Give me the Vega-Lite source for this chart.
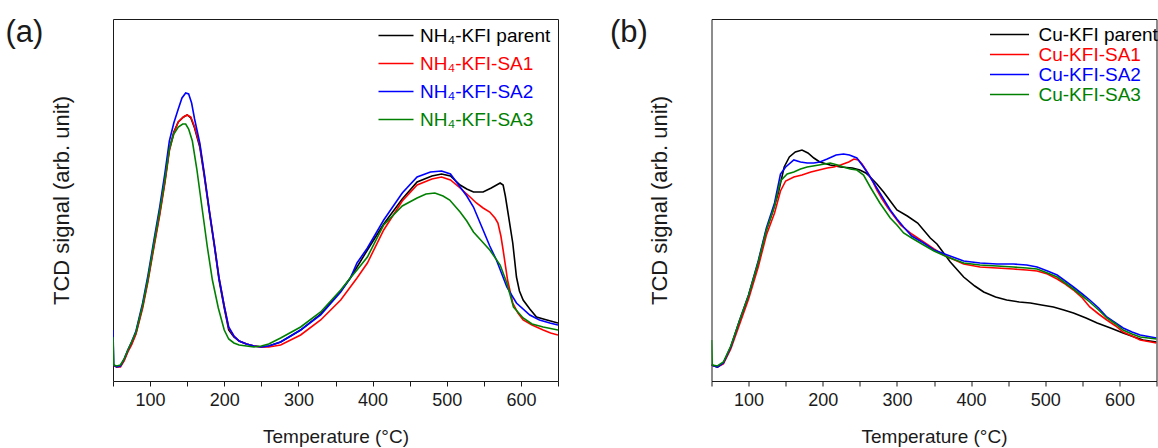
{
"$schema": "https://vega.github.io/schema/vega-lite/v6.json",
"padding": {"left": 5, "top": 16, "right": 0, "bottom": 0},
"config": {
  "font": "Liberation Sans",
  "view": {"stroke": "#1a1a1a", "strokeWidth": 1},
  "axis": {"labelFont": "Liberation Sans", "titleFont": "Liberation Sans", "titleFontWeight": "normal", "labelColor": "#1a1a1a", "titleColor": "#1a1a1a", "grid": false, "domain": false, "tickColor": "#1a1a1a"},
  "title": {"font": "Liberation Sans", "fontWeight": "normal", "color": "#1a1a1a"}
},
"spacing": 50.5,
"resolve": {"scale": {"color": "independent"}, "legend": {"color": "independent"}},
"datasets": {
"a": [
{"s":"NH₄-KFI parent","T":50,"v":16},{"s":"NH₄-KFI parent","T":55,"v":14},{"s":"NH₄-KFI parent","T":60,"v":15},{"s":"NH₄-KFI parent","T":65,"v":21},{"s":"NH₄-KFI parent","T":70,"v":30},{"s":"NH₄-KFI parent","T":75,"v":37},{"s":"NH₄-KFI parent","T":81,"v":48},{"s":"NH₄-KFI parent","T":90,"v":75},{"s":"NH₄-KFI parent","T":97,"v":101},{"s":"NH₄-KFI parent","T":105,"v":135},{"s":"NH₄-KFI parent","T":113,"v":168},{"s":"NH₄-KFI parent","T":120,"v":200},{"s":"NH₄-KFI parent","T":126,"v":232},{"s":"NH₄-KFI parent","T":132,"v":249},{"s":"NH₄-KFI parent","T":138,"v":259},{"s":"NH₄-KFI parent","T":145,"v":264},{"s":"NH₄-KFI parent","T":150,"v":266},{"s":"NH₄-KFI parent","T":155,"v":263},{"s":"NH₄-KFI parent","T":160,"v":253},{"s":"NH₄-KFI parent","T":167,"v":234},{"s":"NH₄-KFI parent","T":173,"v":205},{"s":"NH₄-KFI parent","T":180,"v":168},{"s":"NH₄-KFI parent","T":187,"v":133},{"s":"NH₄-KFI parent","T":193,"v":101},{"s":"NH₄-KFI parent","T":200,"v":73},{"s":"NH₄-KFI parent","T":206,"v":51},{"s":"NH₄-KFI parent","T":213,"v":44},{"s":"NH₄-KFI parent","T":220,"v":40},{"s":"NH₄-KFI parent","T":230,"v":37},{"s":"NH₄-KFI parent","T":240,"v":35},{"s":"NH₄-KFI parent","T":250,"v":34},{"s":"NH₄-KFI parent","T":260,"v":35},{"s":"NH₄-KFI parent","T":276,"v":39},{"s":"NH₄-KFI parent","T":303,"v":51},{"s":"NH₄-KFI parent","T":330,"v":67},{"s":"NH₄-KFI parent","T":357,"v":90},{"s":"NH₄-KFI parent","T":370,"v":103},{"s":"NH₄-KFI parent","T":379,"v":114},{"s":"NH₄-KFI parent","T":393,"v":131},{"s":"NH₄-KFI parent","T":415,"v":157},{"s":"NH₄-KFI parent","T":440,"v":182},{"s":"NH₄-KFI parent","T":460,"v":199},{"s":"NH₄-KFI parent","T":480,"v":205},{"s":"NH₄-KFI parent","T":493,"v":207},{"s":"NH₄-KFI parent","T":505,"v":205},{"s":"NH₄-KFI parent","T":518,"v":196},{"s":"NH₄-KFI parent","T":527,"v":192},{"s":"NH₄-KFI parent","T":536,"v":189},{"s":"NH₄-KFI parent","T":549,"v":189},{"s":"NH₄-KFI parent","T":560,"v":193},{"s":"NH₄-KFI parent","T":572,"v":198},{"s":"NH₄-KFI parent","T":576,"v":196},{"s":"NH₄-KFI parent","T":579,"v":185},{"s":"NH₄-KFI parent","T":582,"v":171},{"s":"NH₄-KFI parent","T":589,"v":138},{"s":"NH₄-KFI parent","T":594,"v":104},{"s":"NH₄-KFI parent","T":598,"v":90},{"s":"NH₄-KFI parent","T":603,"v":81},{"s":"NH₄-KFI parent","T":612,"v":72},{"s":"NH₄-KFI parent","T":621,"v":64},{"s":"NH₄-KFI parent","T":635,"v":61},{"s":"NH₄-KFI parent","T":650,"v":58},
{"s":"NH₄-KFI-SA1","T":50,"v":16},{"s":"NH₄-KFI-SA1","T":55,"v":14},{"s":"NH₄-KFI-SA1","T":60,"v":14},{"s":"NH₄-KFI-SA1","T":65,"v":20},{"s":"NH₄-KFI-SA1","T":70,"v":29},{"s":"NH₄-KFI-SA1","T":75,"v":36},{"s":"NH₄-KFI-SA1","T":81,"v":47},{"s":"NH₄-KFI-SA1","T":90,"v":73},{"s":"NH₄-KFI-SA1","T":97,"v":99},{"s":"NH₄-KFI-SA1","T":105,"v":133},{"s":"NH₄-KFI-SA1","T":113,"v":166},{"s":"NH₄-KFI-SA1","T":120,"v":198},{"s":"NH₄-KFI-SA1","T":126,"v":230},{"s":"NH₄-KFI-SA1","T":132,"v":248},{"s":"NH₄-KFI-SA1","T":138,"v":259},{"s":"NH₄-KFI-SA1","T":145,"v":264},{"s":"NH₄-KFI-SA1","T":150,"v":266},{"s":"NH₄-KFI-SA1","T":155,"v":264},{"s":"NH₄-KFI-SA1","T":160,"v":254},{"s":"NH₄-KFI-SA1","T":167,"v":236},{"s":"NH₄-KFI-SA1","T":173,"v":207},{"s":"NH₄-KFI-SA1","T":180,"v":170},{"s":"NH₄-KFI-SA1","T":187,"v":135},{"s":"NH₄-KFI-SA1","T":193,"v":103},{"s":"NH₄-KFI-SA1","T":200,"v":75},{"s":"NH₄-KFI-SA1","T":206,"v":53},{"s":"NH₄-KFI-SA1","T":213,"v":45},{"s":"NH₄-KFI-SA1","T":220,"v":40},{"s":"NH₄-KFI-SA1","T":230,"v":37},{"s":"NH₄-KFI-SA1","T":240,"v":35},{"s":"NH₄-KFI-SA1","T":250,"v":34},{"s":"NH₄-KFI-SA1","T":260,"v":34},{"s":"NH₄-KFI-SA1","T":276,"v":36},{"s":"NH₄-KFI-SA1","T":303,"v":46},{"s":"NH₄-KFI-SA1","T":330,"v":61},{"s":"NH₄-KFI-SA1","T":357,"v":81},{"s":"NH₄-KFI-SA1","T":370,"v":94},{"s":"NH₄-KFI-SA1","T":379,"v":103},{"s":"NH₄-KFI-SA1","T":393,"v":118},{"s":"NH₄-KFI-SA1","T":415,"v":151},{"s":"NH₄-KFI-SA1","T":440,"v":180},{"s":"NH₄-KFI-SA1","T":460,"v":196},{"s":"NH₄-KFI-SA1","T":480,"v":202},{"s":"NH₄-KFI-SA1","T":493,"v":204},{"s":"NH₄-KFI-SA1","T":505,"v":201},{"s":"NH₄-KFI-SA1","T":518,"v":193},{"s":"NH₄-KFI-SA1","T":530,"v":185},{"s":"NH₄-KFI-SA1","T":540,"v":178},{"s":"NH₄-KFI-SA1","T":549,"v":173},{"s":"NH₄-KFI-SA1","T":558,"v":169},{"s":"NH₄-KFI-SA1","T":565,"v":163},{"s":"NH₄-KFI-SA1","T":569,"v":158},{"s":"NH₄-KFI-SA1","T":573,"v":145},{"s":"NH₄-KFI-SA1","T":576,"v":131},{"s":"NH₄-KFI-SA1","T":582,"v":101},{"s":"NH₄-KFI-SA1","T":589,"v":78},{"s":"NH₄-KFI-SA1","T":596,"v":68},{"s":"NH₄-KFI-SA1","T":603,"v":61},{"s":"NH₄-KFI-SA1","T":615,"v":56},{"s":"NH₄-KFI-SA1","T":630,"v":51},{"s":"NH₄-KFI-SA1","T":640,"v":48},{"s":"NH₄-KFI-SA1","T":650,"v":46},
{"s":"NH₄-KFI-SA2","T":50,"v":51},{"s":"NH₄-KFI-SA2","T":51,"v":16},{"s":"NH₄-KFI-SA2","T":55,"v":14},{"s":"NH₄-KFI-SA2","T":60,"v":15},{"s":"NH₄-KFI-SA2","T":65,"v":22},{"s":"NH₄-KFI-SA2","T":70,"v":31},{"s":"NH₄-KFI-SA2","T":75,"v":39},{"s":"NH₄-KFI-SA2","T":81,"v":50},{"s":"NH₄-KFI-SA2","T":90,"v":78},{"s":"NH₄-KFI-SA2","T":97,"v":105},{"s":"NH₄-KFI-SA2","T":105,"v":140},{"s":"NH₄-KFI-SA2","T":113,"v":174},{"s":"NH₄-KFI-SA2","T":120,"v":208},{"s":"NH₄-KFI-SA2","T":126,"v":240},{"s":"NH₄-KFI-SA2","T":132,"v":258},{"s":"NH₄-KFI-SA2","T":138,"v":272},{"s":"NH₄-KFI-SA2","T":143,"v":283},{"s":"NH₄-KFI-SA2","T":148,"v":288},{"s":"NH₄-KFI-SA2","T":152,"v":287},{"s":"NH₄-KFI-SA2","T":156,"v":278},{"s":"NH₄-KFI-SA2","T":160,"v":262},{"s":"NH₄-KFI-SA2","T":167,"v":238},{"s":"NH₄-KFI-SA2","T":173,"v":208},{"s":"NH₄-KFI-SA2","T":180,"v":170},{"s":"NH₄-KFI-SA2","T":187,"v":135},{"s":"NH₄-KFI-SA2","T":193,"v":103},{"s":"NH₄-KFI-SA2","T":200,"v":75},{"s":"NH₄-KFI-SA2","T":206,"v":54},{"s":"NH₄-KFI-SA2","T":213,"v":45},{"s":"NH₄-KFI-SA2","T":220,"v":40},{"s":"NH₄-KFI-SA2","T":230,"v":37},{"s":"NH₄-KFI-SA2","T":240,"v":35},{"s":"NH₄-KFI-SA2","T":250,"v":34},{"s":"NH₄-KFI-SA2","T":260,"v":35},{"s":"NH₄-KFI-SA2","T":276,"v":39},{"s":"NH₄-KFI-SA2","T":303,"v":51},{"s":"NH₄-KFI-SA2","T":330,"v":66},{"s":"NH₄-KFI-SA2","T":357,"v":89},{"s":"NH₄-KFI-SA2","T":370,"v":103},{"s":"NH₄-KFI-SA2","T":379,"v":118},{"s":"NH₄-KFI-SA2","T":393,"v":133},{"s":"NH₄-KFI-SA2","T":415,"v":161},{"s":"NH₄-KFI-SA2","T":440,"v":188},{"s":"NH₄-KFI-SA2","T":460,"v":204},{"s":"NH₄-KFI-SA2","T":478,"v":209},{"s":"NH₄-KFI-SA2","T":493,"v":210},{"s":"NH₄-KFI-SA2","T":505,"v":207},{"s":"NH₄-KFI-SA2","T":518,"v":194},{"s":"NH₄-KFI-SA2","T":527,"v":185},{"s":"NH₄-KFI-SA2","T":536,"v":174},{"s":"NH₄-KFI-SA2","T":549,"v":151},{"s":"NH₄-KFI-SA2","T":558,"v":135},{"s":"NH₄-KFI-SA2","T":567,"v":121},{"s":"NH₄-KFI-SA2","T":581,"v":94},{"s":"NH₄-KFI-SA2","T":594,"v":78},{"s":"NH₄-KFI-SA2","T":612,"v":66},{"s":"NH₄-KFI-SA2","T":625,"v":61},{"s":"NH₄-KFI-SA2","T":639,"v":58},{"s":"NH₄-KFI-SA2","T":650,"v":56},
{"s":"NH₄-KFI-SA3","T":50,"v":44},{"s":"NH₄-KFI-SA3","T":51,"v":16},{"s":"NH₄-KFI-SA3","T":55,"v":15},{"s":"NH₄-KFI-SA3","T":60,"v":16},{"s":"NH₄-KFI-SA3","T":65,"v":22},{"s":"NH₄-KFI-SA3","T":70,"v":31},{"s":"NH₄-KFI-SA3","T":75,"v":39},{"s":"NH₄-KFI-SA3","T":81,"v":49},{"s":"NH₄-KFI-SA3","T":90,"v":76},{"s":"NH₄-KFI-SA3","T":97,"v":102},{"s":"NH₄-KFI-SA3","T":105,"v":137},{"s":"NH₄-KFI-SA3","T":113,"v":170},{"s":"NH₄-KFI-SA3","T":120,"v":202},{"s":"NH₄-KFI-SA3","T":126,"v":232},{"s":"NH₄-KFI-SA3","T":132,"v":247},{"s":"NH₄-KFI-SA3","T":138,"v":254},{"s":"NH₄-KFI-SA3","T":144,"v":257},{"s":"NH₄-KFI-SA3","T":148,"v":257},{"s":"NH₄-KFI-SA3","T":152,"v":252},{"s":"NH₄-KFI-SA3","T":157,"v":240},{"s":"NH₄-KFI-SA3","T":163,"v":212},{"s":"NH₄-KFI-SA3","T":171,"v":168},{"s":"NH₄-KFI-SA3","T":177,"v":135},{"s":"NH₄-KFI-SA3","T":184,"v":101},{"s":"NH₄-KFI-SA3","T":192,"v":73},{"s":"NH₄-KFI-SA3","T":200,"v":51},{"s":"NH₄-KFI-SA3","T":206,"v":42},{"s":"NH₄-KFI-SA3","T":213,"v":38},{"s":"NH₄-KFI-SA3","T":220,"v":36},{"s":"NH₄-KFI-SA3","T":230,"v":35},{"s":"NH₄-KFI-SA3","T":240,"v":34},{"s":"NH₄-KFI-SA3","T":250,"v":35},{"s":"NH₄-KFI-SA3","T":260,"v":37},{"s":"NH₄-KFI-SA3","T":276,"v":43},{"s":"NH₄-KFI-SA3","T":303,"v":54},{"s":"NH₄-KFI-SA3","T":330,"v":69},{"s":"NH₄-KFI-SA3","T":357,"v":91},{"s":"NH₄-KFI-SA3","T":370,"v":103},{"s":"NH₄-KFI-SA3","T":379,"v":111},{"s":"NH₄-KFI-SA3","T":393,"v":124},{"s":"NH₄-KFI-SA3","T":415,"v":156},{"s":"NH₄-KFI-SA3","T":440,"v":175},{"s":"NH₄-KFI-SA3","T":460,"v":183},{"s":"NH₄-KFI-SA3","T":472,"v":187},{"s":"NH₄-KFI-SA3","T":484,"v":188},{"s":"NH₄-KFI-SA3","T":495,"v":185},{"s":"NH₄-KFI-SA3","T":504,"v":181},{"s":"NH₄-KFI-SA3","T":518,"v":169},{"s":"NH₄-KFI-SA3","T":527,"v":160},{"s":"NH₄-KFI-SA3","T":536,"v":149},{"s":"NH₄-KFI-SA3","T":547,"v":140},{"s":"NH₄-KFI-SA3","T":558,"v":131},{"s":"NH₄-KFI-SA3","T":572,"v":116},{"s":"NH₄-KFI-SA3","T":581,"v":98},{"s":"NH₄-KFI-SA3","T":590,"v":74},{"s":"NH₄-KFI-SA3","T":603,"v":63},{"s":"NH₄-KFI-SA3","T":615,"v":57},{"s":"NH₄-KFI-SA3","T":630,"v":54},{"s":"NH₄-KFI-SA3","T":650,"v":51}
],
"b": [
{"s":"Cu-KFI parent","T":50,"v":16},{"s":"Cu-KFI parent","T":58,"v":14},{"s":"Cu-KFI parent","T":66,"v":18},{"s":"Cu-KFI parent","T":76,"v":34},{"s":"Cu-KFI parent","T":88,"v":60},{"s":"Cu-KFI parent","T":100,"v":85},{"s":"Cu-KFI parent","T":113,"v":118},{"s":"Cu-KFI parent","T":124,"v":151},{"s":"Cu-KFI parent","T":132,"v":168},{"s":"Cu-KFI parent","T":140,"v":188},{"s":"Cu-KFI parent","T":148,"v":214},{"s":"Cu-KFI parent","T":155,"v":224},{"s":"Cu-KFI parent","T":163,"v":229},{"s":"Cu-KFI parent","T":172,"v":231},{"s":"Cu-KFI parent","T":180,"v":228},{"s":"Cu-KFI parent","T":188,"v":223},{"s":"Cu-KFI parent","T":196,"v":219},{"s":"Cu-KFI parent","T":210,"v":216},{"s":"Cu-KFI parent","T":224,"v":214},{"s":"Cu-KFI parent","T":240,"v":213},{"s":"Cu-KFI parent","T":250,"v":211},{"s":"Cu-KFI parent","T":258,"v":208},{"s":"Cu-KFI parent","T":264,"v":204},{"s":"Cu-KFI parent","T":273,"v":197},{"s":"Cu-KFI parent","T":282,"v":189},{"s":"Cu-KFI parent","T":291,"v":180},{"s":"Cu-KFI parent","T":300,"v":171},{"s":"Cu-KFI parent","T":314,"v":165},{"s":"Cu-KFI parent","T":328,"v":158},{"s":"Cu-KFI parent","T":345,"v":143},{"s":"Cu-KFI parent","T":354,"v":137},{"s":"Cu-KFI parent","T":363,"v":128},{"s":"Cu-KFI parent","T":372,"v":119},{"s":"Cu-KFI parent","T":390,"v":104},{"s":"Cu-KFI parent","T":405,"v":95},{"s":"Cu-KFI parent","T":417,"v":89},{"s":"Cu-KFI parent","T":433,"v":84},{"s":"Cu-KFI parent","T":448,"v":81},{"s":"Cu-KFI parent","T":465,"v":79},{"s":"Cu-KFI parent","T":480,"v":78},{"s":"Cu-KFI parent","T":495,"v":76},{"s":"Cu-KFI parent","T":511,"v":74},{"s":"Cu-KFI parent","T":525,"v":71},{"s":"Cu-KFI parent","T":538,"v":68},{"s":"Cu-KFI parent","T":555,"v":63},{"s":"Cu-KFI parent","T":570,"v":58},{"s":"Cu-KFI parent","T":588,"v":53},{"s":"Cu-KFI parent","T":605,"v":48},{"s":"Cu-KFI parent","T":620,"v":44},{"s":"Cu-KFI parent","T":632,"v":41},{"s":"Cu-KFI parent","T":650,"v":39},
{"s":"Cu-KFI-SA1","T":50,"v":16},{"s":"Cu-KFI-SA1","T":58,"v":14},{"s":"Cu-KFI-SA1","T":66,"v":17},{"s":"Cu-KFI-SA1","T":76,"v":32},{"s":"Cu-KFI-SA1","T":88,"v":57},{"s":"Cu-KFI-SA1","T":100,"v":82},{"s":"Cu-KFI-SA1","T":113,"v":114},{"s":"Cu-KFI-SA1","T":124,"v":146},{"s":"Cu-KFI-SA1","T":135,"v":168},{"s":"Cu-KFI-SA1","T":143,"v":190},{"s":"Cu-KFI-SA1","T":150,"v":200},{"s":"Cu-KFI-SA1","T":161,"v":204},{"s":"Cu-KFI-SA1","T":172,"v":206},{"s":"Cu-KFI-SA1","T":184,"v":209},{"s":"Cu-KFI-SA1","T":195,"v":211},{"s":"Cu-KFI-SA1","T":206,"v":213},{"s":"Cu-KFI-SA1","T":215,"v":214},{"s":"Cu-KFI-SA1","T":224,"v":216},{"s":"Cu-KFI-SA1","T":235,"v":219},{"s":"Cu-KFI-SA1","T":242,"v":222},{"s":"Cu-KFI-SA1","T":248,"v":221},{"s":"Cu-KFI-SA1","T":253,"v":217},{"s":"Cu-KFI-SA1","T":260,"v":209},{"s":"Cu-KFI-SA1","T":267,"v":200},{"s":"Cu-KFI-SA1","T":273,"v":191},{"s":"Cu-KFI-SA1","T":280,"v":182},{"s":"Cu-KFI-SA1","T":287,"v":174},{"s":"Cu-KFI-SA1","T":296,"v":165},{"s":"Cu-KFI-SA1","T":305,"v":156},{"s":"Cu-KFI-SA1","T":320,"v":147},{"s":"Cu-KFI-SA1","T":336,"v":139},{"s":"Cu-KFI-SA1","T":350,"v":132},{"s":"Cu-KFI-SA1","T":363,"v":126},{"s":"Cu-KFI-SA1","T":390,"v":117},{"s":"Cu-KFI-SA1","T":412,"v":114},{"s":"Cu-KFI-SA1","T":435,"v":113},{"s":"Cu-KFI-SA1","T":457,"v":112},{"s":"Cu-KFI-SA1","T":475,"v":111},{"s":"Cu-KFI-SA1","T":489,"v":110},{"s":"Cu-KFI-SA1","T":503,"v":107},{"s":"Cu-KFI-SA1","T":516,"v":102},{"s":"Cu-KFI-SA1","T":527,"v":97},{"s":"Cu-KFI-SA1","T":538,"v":91},{"s":"Cu-KFI-SA1","T":550,"v":83},{"s":"Cu-KFI-SA1","T":560,"v":74},{"s":"Cu-KFI-SA1","T":572,"v":67},{"s":"Cu-KFI-SA1","T":583,"v":61},{"s":"Cu-KFI-SA1","T":595,"v":55},{"s":"Cu-KFI-SA1","T":605,"v":49},{"s":"Cu-KFI-SA1","T":617,"v":45},{"s":"Cu-KFI-SA1","T":628,"v":41},{"s":"Cu-KFI-SA1","T":650,"v":38},
{"s":"Cu-KFI-SA2","T":50,"v":16},{"s":"Cu-KFI-SA2","T":58,"v":14},{"s":"Cu-KFI-SA2","T":66,"v":18},{"s":"Cu-KFI-SA2","T":76,"v":34},{"s":"Cu-KFI-SA2","T":88,"v":61},{"s":"Cu-KFI-SA2","T":100,"v":86},{"s":"Cu-KFI-SA2","T":113,"v":120},{"s":"Cu-KFI-SA2","T":124,"v":153},{"s":"Cu-KFI-SA2","T":135,"v":178},{"s":"Cu-KFI-SA2","T":140,"v":196},{"s":"Cu-KFI-SA2","T":143,"v":207},{"s":"Cu-KFI-SA2","T":150,"v":214},{"s":"Cu-KFI-SA2","T":161,"v":221},{"s":"Cu-KFI-SA2","T":170,"v":219},{"s":"Cu-KFI-SA2","T":179,"v":218},{"s":"Cu-KFI-SA2","T":188,"v":218},{"s":"Cu-KFI-SA2","T":196,"v":219},{"s":"Cu-KFI-SA2","T":206,"v":222},{"s":"Cu-KFI-SA2","T":218,"v":226},{"s":"Cu-KFI-SA2","T":228,"v":227},{"s":"Cu-KFI-SA2","T":236,"v":226},{"s":"Cu-KFI-SA2","T":246,"v":223},{"s":"Cu-KFI-SA2","T":255,"v":214},{"s":"Cu-KFI-SA2","T":264,"v":204},{"s":"Cu-KFI-SA2","T":277,"v":188},{"s":"Cu-KFI-SA2","T":291,"v":171},{"s":"Cu-KFI-SA2","T":300,"v":162},{"s":"Cu-KFI-SA2","T":309,"v":154},{"s":"Cu-KFI-SA2","T":320,"v":145},{"s":"Cu-KFI-SA2","T":336,"v":138},{"s":"Cu-KFI-SA2","T":350,"v":131},{"s":"Cu-KFI-SA2","T":368,"v":126},{"s":"Cu-KFI-SA2","T":390,"v":120},{"s":"Cu-KFI-SA2","T":412,"v":118},{"s":"Cu-KFI-SA2","T":435,"v":117},{"s":"Cu-KFI-SA2","T":457,"v":117},{"s":"Cu-KFI-SA2","T":475,"v":116},{"s":"Cu-KFI-SA2","T":489,"v":114},{"s":"Cu-KFI-SA2","T":503,"v":110},{"s":"Cu-KFI-SA2","T":516,"v":106},{"s":"Cu-KFI-SA2","T":527,"v":100},{"s":"Cu-KFI-SA2","T":538,"v":94},{"s":"Cu-KFI-SA2","T":550,"v":87},{"s":"Cu-KFI-SA2","T":560,"v":81},{"s":"Cu-KFI-SA2","T":572,"v":73},{"s":"Cu-KFI-SA2","T":583,"v":64},{"s":"Cu-KFI-SA2","T":595,"v":58},{"s":"Cu-KFI-SA2","T":605,"v":53},{"s":"Cu-KFI-SA2","T":617,"v":49},{"s":"Cu-KFI-SA2","T":628,"v":46},{"s":"Cu-KFI-SA2","T":650,"v":43},
{"s":"Cu-KFI-SA3","T":50,"v":41},{"s":"Cu-KFI-SA3","T":51,"v":16},{"s":"Cu-KFI-SA3","T":58,"v":15},{"s":"Cu-KFI-SA3","T":66,"v":19},{"s":"Cu-KFI-SA3","T":76,"v":35},{"s":"Cu-KFI-SA3","T":88,"v":61},{"s":"Cu-KFI-SA3","T":100,"v":86},{"s":"Cu-KFI-SA3","T":113,"v":119},{"s":"Cu-KFI-SA3","T":124,"v":151},{"s":"Cu-KFI-SA3","T":135,"v":175},{"s":"Cu-KFI-SA3","T":143,"v":200},{"s":"Cu-KFI-SA3","T":152,"v":207},{"s":"Cu-KFI-SA3","T":161,"v":209},{"s":"Cu-KFI-SA3","T":170,"v":212},{"s":"Cu-KFI-SA3","T":179,"v":214},{"s":"Cu-KFI-SA3","T":195,"v":216},{"s":"Cu-KFI-SA3","T":210,"v":218},{"s":"Cu-KFI-SA3","T":220,"v":216},{"s":"Cu-KFI-SA3","T":228,"v":214},{"s":"Cu-KFI-SA3","T":237,"v":212},{"s":"Cu-KFI-SA3","T":246,"v":211},{"s":"Cu-KFI-SA3","T":255,"v":206},{"s":"Cu-KFI-SA3","T":264,"v":194},{"s":"Cu-KFI-SA3","T":277,"v":178},{"s":"Cu-KFI-SA3","T":291,"v":163},{"s":"Cu-KFI-SA3","T":300,"v":156},{"s":"Cu-KFI-SA3","T":309,"v":148},{"s":"Cu-KFI-SA3","T":320,"v":143},{"s":"Cu-KFI-SA3","T":336,"v":136},{"s":"Cu-KFI-SA3","T":350,"v":130},{"s":"Cu-KFI-SA3","T":368,"v":124},{"s":"Cu-KFI-SA3","T":390,"v":118},{"s":"Cu-KFI-SA3","T":412,"v":116},{"s":"Cu-KFI-SA3","T":435,"v":115},{"s":"Cu-KFI-SA3","T":457,"v":114},{"s":"Cu-KFI-SA3","T":475,"v":113},{"s":"Cu-KFI-SA3","T":489,"v":112},{"s":"Cu-KFI-SA3","T":503,"v":108},{"s":"Cu-KFI-SA3","T":516,"v":104},{"s":"Cu-KFI-SA3","T":527,"v":98},{"s":"Cu-KFI-SA3","T":538,"v":92},{"s":"Cu-KFI-SA3","T":550,"v":85},{"s":"Cu-KFI-SA3","T":560,"v":79},{"s":"Cu-KFI-SA3","T":572,"v":71},{"s":"Cu-KFI-SA3","T":583,"v":63},{"s":"Cu-KFI-SA3","T":595,"v":57},{"s":"Cu-KFI-SA3","T":605,"v":51},{"s":"Cu-KFI-SA3","T":617,"v":47},{"s":"Cu-KFI-SA3","T":628,"v":44},{"s":"Cu-KFI-SA3","T":650,"v":42}
]
},
"hconcat": [
{
  "width": 445, "height": 362,
  "title": {"text": "(a)", "anchor": "start", "frame": "group", "fontSize": 31, "baseline": "top", "offset": 0, "dx": -107.5, "dy": 30},
  "data": {"name": "a"},
  "mark": {"type": "line", "strokeWidth": 1.6, "clip": true},
  "encoding": {
    "x": {"field": "T", "type": "quantitative", "scale": {"domain": [50, 650], "nice": false, "zero": false},
      "axis": {"title": "Temperature (°C)", "values": [50,100,150,200,250,300,350,400,450,500,550,600,650], "labelExpr": "datum.value % 100 === 0 ? datum.label : ''", "tickSize": 5, "labelFontSize": 18, "titleFontSize": 19, "labelPadding": 5, "titlePadding": 18}},
    "y": {"field": "v", "type": "quantitative", "scale": {"domain": [0, 362], "nice": false},
      "axis": {"title": "TCD signal (arb. unit)", "labels": false, "ticks": false, "titleFontSize": 22, "titlePadding": 40}},
    "color": {"field": "s", "type": "nominal", "sort": null,
      "scale": {"domain": ["NH₄-KFI parent", "NH₄-KFI-SA1", "NH₄-KFI-SA2", "NH₄-KFI-SA3"], "range": ["#000000", "#ff0000", "#0000ff", "#008000"]},
      "legend": {"orient": "none", "legendX": 273.5, "legendY": 7, "title": null, "symbolType": "M-3.5,0H3.5", "symbolSize": 100, "symbolStrokeWidth": 1.5, "labelFontSize": 19, "labelOffset": 14.5, "rowPadding": 8, "padding": 0,
        "encode": {"labels": {"update": {"fill": {"signal": "['#000000','#ff0000','#0000ff','#008000'][datum.index]"}}}}}}
  }
},
{
  "width": 445, "height": 362,
  "title": {"text": "(b)", "anchor": "start", "frame": "group", "fontSize": 31, "baseline": "top", "offset": 0, "dx": -101.5, "dy": 30},
  "data": {"name": "b"},
  "mark": {"type": "line", "strokeWidth": 1.6, "clip": true},
  "encoding": {
    "x": {"field": "T", "type": "quantitative", "scale": {"domain": [50, 650], "nice": false, "zero": false},
      "axis": {"title": "Temperature (°C)", "values": [50,100,150,200,250,300,350,400,450,500,550,600,650], "labelExpr": "datum.value % 100 === 0 ? datum.label : ''", "tickSize": 5, "labelFontSize": 18, "titleFontSize": 19, "labelPadding": 5, "titlePadding": 18}},
    "y": {"field": "v", "type": "quantitative", "scale": {"domain": [0, 362], "nice": false},
      "axis": {"title": "TCD signal (arb. unit)", "labels": false, "ticks": false, "titleFontSize": 22, "titlePadding": 40}},
    "color": {"field": "s", "type": "nominal", "sort": null,
      "scale": {"domain": ["Cu-KFI parent", "Cu-KFI-SA1", "Cu-KFI-SA2", "Cu-KFI-SA3"], "range": ["#000000", "#ff0000", "#0000ff", "#008000"]},
      "legend": {"orient": "none", "legendX": 288.5, "legendY": 6, "title": null, "symbolType": "M-3.9,0H3.9", "symbolSize": 100, "symbolStrokeWidth": 1.5, "labelFontSize": 19, "labelOffset": 19.5, "rowPadding": -5.5, "padding": 0,
        "encode": {"labels": {"update": {"fill": {"signal": "['#000000','#ff0000','#0000ff','#008000'][datum.index]"}}}}}}
  }
}
]
}
